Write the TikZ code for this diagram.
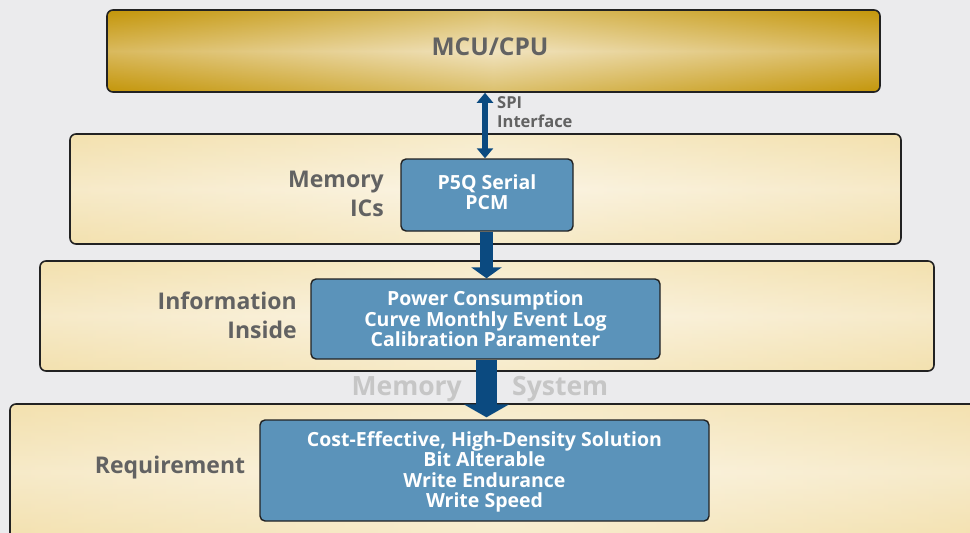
\documentclass[tikz,border=0pt]{standalone}
\usepackage{fontspec}
\setmainfont{Open Sans}
\usetikzlibrary{arrows.meta}
\definecolor{bg}{HTML}{EBEBED}
\definecolor{gold}{HTML}{C4960A}
\definecolor{goldlight}{HTML}{E8D195}
\definecolor{cream}{HTML}{F3E1AF}
\definecolor{creamlight}{HTML}{F9EFD6}
\definecolor{boxblue}{HTML}{5B93BA}
\definecolor{arrowblue}{HTML}{0B4A80}
\definecolor{edge}{HTML}{222222}
\definecolor{lblgray}{HTML}{626262}
\definecolor{memsys}{HTML}{C6C6C6}
\tikzset{
  layerbox/.style={draw=edge, line width=1.6pt, rounded corners=6pt, inner sep=0pt,
    top color=cream, bottom color=cream, middle color=creamlight,
    path picture={\shade[left color=cream, right color=cream, middle color=white, opacity=0.35]
      (path picture bounding box.south west) rectangle (path picture bounding box.north east);}},
  goldbox/.style={draw=edge, line width=1.6pt, rounded corners=6pt, inner sep=0pt,
    top color=gold, bottom color=gold, middle color=goldlight,
    path picture={\shade[left color=gold, right color=gold, middle color=white, opacity=0.4]
      (path picture bounding box.south west) rectangle (path picture bounding box.north east);}},
  bluebox/.style={draw=edge, line width=1.4pt, rounded corners=5pt, fill=boxblue, inner sep=0pt},
  bluetxt/.style={text=white, align=center, inner sep=0pt, font=\fontsize{19.5}{20.5}\selectfont\bfseries},
  lbl/.style={text=lblgray, font=\fontsize{23}{29}\selectfont\bfseries, inner sep=0pt},
  memsystxt/.style={text=memsys, font=\fontsize{26.5}{30}\selectfont\bfseries, inner sep=0pt},
  flowarrow/.style={draw=arrowblue, line width=#1},
}
\begin{document}
\begin{tikzpicture}[x=1pt,y=-1pt]
\clip (0,0) rectangle (970,533);
\fill[bg] (0,0) rectangle (970,533);
% layers
\node[goldbox, minimum width=773pt, minimum height=82pt] (mcu) at (493.5,51) {};
\node[text=lblgray, font=\fontsize{24.5}{28}\selectfont\bfseries] (mcutxt) at (490,47) {MCU/CPU};
\node[layerbox, minimum width=831pt, minimum height=110pt] (l2) at (485.5,189) {};
\node[layerbox, minimum width=894pt, minimum height=110pt] (l3) at (487,316) {};
\node[layerbox, minimum width=980pt, minimum height=136pt] (l4) at (500,472) {};
% blue boxes
\node[bluebox, minimum width=172pt, minimum height=72pt] (p5q) at (487,195) {};
\node[bluetxt] (p5qtxt) at (487,192) {P5Q Serial\\PCM};
\node[bluebox, minimum width=349pt, minimum height=80pt] (info) at (485.5,319) {};
\node[bluetxt] (infotxt) at (485.5,319) {Power Consumption\\Curve Monthly Event Log\\Calibration Paramenter};
\node[bluebox, minimum width=449pt, minimum height=101pt] (req) at (484.5,470.5) {};
\node[bluetxt] (reqtxt) at (484.5,472) {Cost-Effective, High-Density Solution\\Bit Alterable\\Write Endurance\\Write Speed};
% labels
\node[lbl, anchor=east, align=right] (mic) at (384,194) {Memory\\ICs};
\node[lbl, anchor=east, align=right] (inf) at (297,315) {Information\\Inside};
\node[lbl] (reqlbl) at (170,468) {Requirement};
\node[text=lblgray, font=\fontsize{16.5}{18.5}\selectfont\bfseries, anchor=west, align=left, inner sep=0pt] (spi) at (497,112) {SPI\\Interface};
\node[memsystxt, anchor=east] (mem) at (462,389) {Memory};
\node[memsystxt, anchor=west] (sys) at (512,389) {System};
% arrows
\draw[flowarrow=5.5pt, {Triangle[length=10pt,width=16pt]}-{Triangle[length=10pt,width=16pt]}]
  ([xshift=-2pt]p5q.north |- mcu.south) -- ([xshift=-2pt]p5q.north);
\draw[flowarrow=13.5pt, -{Triangle[length=11pt,width=30pt]}]
  ([xshift=-0.5pt]p5q.south) -- ([xshift=-0.5pt]p5q.south |- info.north);
\draw[flowarrow=21.5pt, -{Triangle[length=13pt,width=45pt]}, shorten >=2pt]
  ([xshift=1pt]info.south) -- ([xshift=1pt]info.south |- req.north);
\end{tikzpicture}
\end{document}
